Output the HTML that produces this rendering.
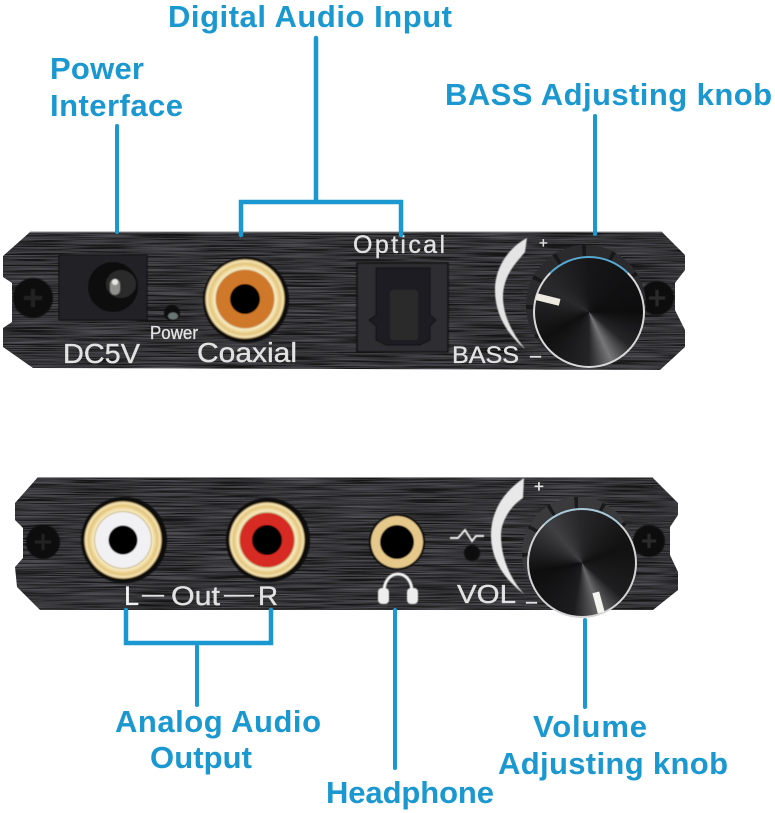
<!DOCTYPE html>
<html><head><meta charset="utf-8"><style>
html,body{margin:0;padding:0;background:#fff;width:775px;height:813px;overflow:hidden}
svg{position:absolute;left:0;top:0}
.k{position:absolute;border-radius:50%}
</style></head><body>
<svg width="775" height="813" viewBox="0 0 775 813" font-family="'Liberation Sans',sans-serif">
<defs>
<radialGradient id="gold"><stop offset=".68" stop-color="#8f6e2c"/><stop offset=".76" stop-color="#f8edc4"/><stop offset=".88" stop-color="#e3c47a"/><stop offset=".96" stop-color="#f6e8bb"/><stop offset="1" stop-color="#86662a"/></radialGradient>
<filter id="s"><feGaussianBlur stdDeviation=".45"/></filter>
<filter id="brush" x="0" y="0" width="100%" height="100%">
<feTurbulence type="fractalNoise" baseFrequency=".015 .9" numOctaves="2" seed="4" result="n"/>
<feColorMatrix in="n" type="matrix" values="0 0 0 0 .14  0 0 0 0 .14  0 0 0 0 .16  1.3 0 0 0 -.45" result="c"/>
<feFlood flood-color="#141417" result="b"/>
<feMerge result="m"><feMergeNode in="b"/><feMergeNode in="c"/></feMerge>
<feComposite in="m" in2="SourceAlpha" operator="in"/>
</filter>
</defs>
<polygon filter="url(#brush)" fill="#000" points="30,232 662,232 685,255 685,270 675,283 675,310 685,330 685,347 660,370 33,368 3,347 3,328 12,322 12,283 3,277 3,256"/>
<polygon filter="url(#brush)" fill="#000" points="38,477 653,478 678,503 678,515 670,527 670,555 678,572 678,590 653,610 40,610 17,587 15,567 23,558 23,528 15,520 15,503"/>
<path d="M30 232H662M38 477.5H653" stroke="#8f8f8f" stroke-width="1"/>
<g filter="url(#s)">
<circle cx="33" cy="298" r="20" fill="#0b0b0c"/><path d="M24 298H42M33 289V307" stroke="#202023" stroke-width="4"/>
<circle cx="657" cy="298" r="17" fill="#0b0b0c"/><path d="M649 298H665M657 290V306" stroke="#2a2a2c" stroke-width="3"/>
<rect x="59" y="255" width="88" height="65" fill="#232325" stroke="#0d0d0e"/>
<circle cx="113" cy="287" r="25" fill="#0b0b0c"/>
<ellipse cx="121" cy="284" rx="15" ry="14" fill="#2b2b2c"/>
<rect x="110" y="279" width="10" height="16" rx="5" fill="#8f8f8c"/><circle cx="115" cy="282" r="3" fill="#e6e6e2"/>
<circle cx="172" cy="313" r="8" fill="#0d0d10"/><ellipse cx="173" cy="316" rx="5" ry="3.5" fill="#6a7673"/>
<circle cx="246" cy="300" r="43" fill="#08080a"/>
<circle cx="245" cy="299" r="40" fill="url(#gold)"/>
<circle cx="245" cy="299" r="29" fill="#d0782a"/>
<circle cx="245" cy="299" r="15" fill="#050505"/>
<rect x="357" y="263" width="91" height="89" fill="#2e2e30" stroke="#101011" stroke-width="1.5"/>
<path d="M376 268H430V315L436 320L430 326V340L420 345H386L376 340V326L369 320L376 315Z" fill="#1f1f21" stroke="#111"/>
<rect x="390" y="290" width="28" height="50" rx="3" fill="#29292b"/>
<path d="M527 238C508 248 495 268 495 290C495 315 508 335 525 349C512 333 503 315 503 297C503 275 517 262 525 252Z" fill="#e4e4e4"/>
<circle cx="43" cy="542" r="17" fill="#0b0b0c"/><path d="M35 542H51M43 534V550" stroke="#202023" stroke-width="3"/>
<circle cx="124" cy="540" r="43" fill="#08080a"/>
<circle cx="123" cy="540" r="39" fill="url(#gold)"/>
<circle cx="123" cy="540" r="28" fill="#f1f1f3"/>
<circle cx="123" cy="540" r="14.5" fill="#050505"/>
<circle cx="268" cy="540" r="42" fill="#08080a"/>
<circle cx="267" cy="540" r="38" fill="url(#gold)"/>
<circle cx="267" cy="540" r="27" fill="#d62a22"/>
<circle cx="267" cy="540" r="15" fill="#050505"/>
<circle cx="397" cy="542" r="28" fill="#0a0a0b"/>
<circle cx="397" cy="542" r="26" fill="#e6c88a"/>
<circle cx="397" cy="542" r="17" fill="#050505"/>
<circle cx="472" cy="553" r="8" fill="#0a0a0b"/>
<path d="M450 538H458L465 530L472 541L476 536H484" fill="none" stroke="#eee" stroke-width="2"/>
<path d="M524 478C503 492 491 512 491 535C491 560 505 580 524 594C510 578 501 558 501 535C501 520 512 505 523 498Z" fill="#e8e8e8"/>
<circle cx="649" cy="541" r="16" fill="#0b0b0c"/><path d="M642 541H656M649 534V548" stroke="#2a2a2c" stroke-width="3"/>
<path d="M384 592C384 568 412 568 412 592" fill="none" stroke="#f2f2f2" stroke-width="3"/>
<rect x="378" y="588" width="11" height="16" rx="4" fill="#eee"/><rect x="407" y="588" width="11" height="16" rx="4" fill="#eee"/>
</g>
<g fill="#e2e2e2" stroke="#e2e2e2" stroke-width=".35">
<text x="63" y="363" font-size="28" textLength="77" lengthAdjust="spacingAndGlyphs">DC5V</text>
<text x="150" y="339" font-size="18" textLength="48" lengthAdjust="spacingAndGlyphs">Power</text>
<text x="197" y="362" font-size="28" textLength="100" lengthAdjust="spacingAndGlyphs">Coaxial</text>
<text x="353" y="253" font-size="25" textLength="92">Optical</text>
<text x="452" y="363" font-size="24" textLength="67" lengthAdjust="spacingAndGlyphs">BASS</text>
<text x="539" y="248" font-size="15">+</text>
<rect x="530" y="356" width="11" height="1.5"/>
<text x="124" y="605" font-size="27" fill="#f4f4f4">L</text>
<rect x="142" y="595" width="22" height="1.5"/>
<text x="171" y="605" font-size="27" textLength="49" lengthAdjust="spacingAndGlyphs">Out</text>
<rect x="224" y="595" width="30" height="1.5"/>
<text x="258" y="605" font-size="27" textLength="20" lengthAdjust="spacingAndGlyphs">R</text>
<text x="457" y="603" font-size="26" textLength="59" lengthAdjust="spacingAndGlyphs">VOL</text>
<rect x="526" y="602" width="11" height="1.5"/>
<text x="534" y="492" font-size="17">+</text>
</g>
<g stroke="#1a98cf" stroke-width="4" fill="none" stroke-linecap="round" stroke-linejoin="miter">
<path d="M117 126V232"/>
<path d="M316 38V202M241 235V202H401V235" stroke-width="4.5"/>
<path d="M595 116V234"/>
<path d="M126 610V643H271V610" stroke-width="4.5"/>
<path d="M197 643V705"/>
<path d="M395 610V768"/>
<path d="M585 620V707"/>
</g>
<g fill="#1a98cf" font-weight="bold" font-size="31">
<text x="168" y="27" textLength="284">Digital Audio Input</text>
<text x="50" y="79" textLength="94">Power</text>
<text x="50" y="116" textLength="133">Interface</text>
<text x="445" y="105" textLength="327">BASS Adjusting knob</text>
<text x="115" y="732" textLength="206">Analog Audio</text>
<text x="150" y="768" textLength="102">Output</text>
<text x="326" y="803" textLength="168">Headphone</text>
<text x="533" y="737" textLength="114">Volume</text>
<text x="498" y="774" textLength="230">Adjusting knob</text>
</g>
</svg>
<div class="k" style="left:526px;top:245px;width:120px;height:120px;background:repeating-conic-gradient(#2b2b2e 0deg 26deg,#18181a 26deg 30deg)"></div>
<div class="k" style="left:533px;top:256px;width:112px;height:112px;box-sizing:border-box;border:2.5px solid #d8d8d8;border-top-color:#58a8d0;background:conic-gradient(#161618 0deg,#0d0d0e 90deg,#262628 130deg,#77777a 155deg,#242426 180deg,#0f0f10 240deg,#2a2a2c 300deg,#161618 360deg)"></div>
<div style="position:absolute;left:536px;top:296px;width:24px;height:7px;background:#eeeae2;transform:rotate(14deg)"></div>
<div class="k" style="left:522px;top:497px;width:112px;height:112px;background:repeating-conic-gradient(#3a3a3d 0deg 26deg,#1a1a1c 26deg 30deg)"></div>
<div class="k" style="left:527px;top:508px;width:110px;height:110px;box-sizing:border-box;border:2.5px solid #d4d4d4;border-top-color:#a9c9d8;background:conic-gradient(#262628 0deg,#111 70deg,#1e1e20 130deg,#6a6a6d 160deg,#1c1c1e 190deg,#0e0e0f 260deg,#404043 320deg,#262628 360deg)"></div>
<div style="position:absolute;left:595px;top:592px;width:7px;height:21px;background:#f4f4f0;transform:rotate(-15deg)"></div>
</body></html>
